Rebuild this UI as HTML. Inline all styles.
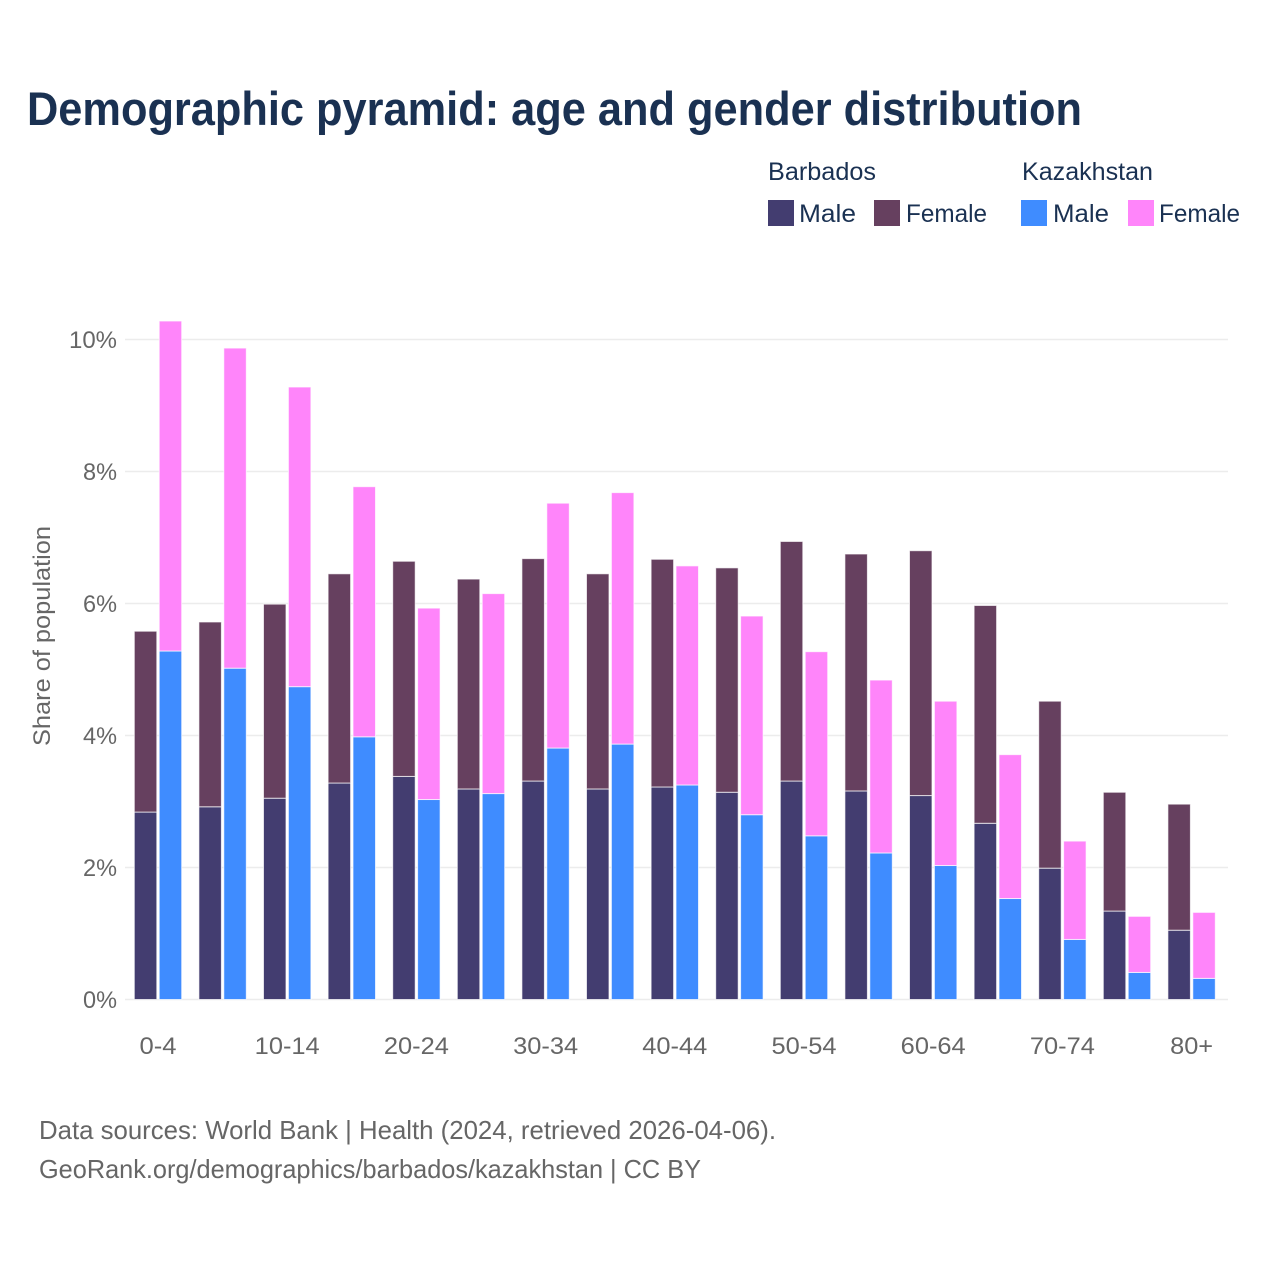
<!DOCTYPE html>
<html lang="en">
<head>
<meta charset="utf-8">
<title>Demographic pyramid</title>
<style>
html,body{margin:0;padding:0;background:#fff;width:1280px;height:1280px;overflow:hidden}
svg{display:block}
text{font-family:"Liberation Sans",sans-serif}
</style>
</head>
<body>
<svg id="chart" width="1280" height="1280" viewBox="0 0 1280 1280" xmlns="http://www.w3.org/2000/svg">
  <text x="27" y="125" font-size="47" font-weight="700" fill="#1a3152" textLength="1055" lengthAdjust="spacingAndGlyphs">Demographic pyramid: age and gender distribution</text>

  <g font-size="25" fill="#1a3152">
    <text x="768" y="180" textLength="108" lengthAdjust="spacingAndGlyphs">Barbados</text>
    <text x="1022" y="180" textLength="131" lengthAdjust="spacingAndGlyphs">Kazakhstan</text>
    <rect x="768" y="200" width="26" height="26" fill="#433d70"/>
    <text x="799" y="222" textLength="57" lengthAdjust="spacingAndGlyphs">Male</text>
    <rect x="874" y="200" width="26" height="26" fill="#66405f"/>
    <text x="906" y="222" textLength="81" lengthAdjust="spacingAndGlyphs">Female</text>
    <rect x="1021" y="200" width="26" height="26" fill="#3f8cff"/>
    <text x="1053" y="222" textLength="56" lengthAdjust="spacingAndGlyphs">Male</text>
    <rect x="1128" y="200" width="26" height="26" fill="#ff85fa"/>
    <text x="1159" y="222" textLength="81" lengthAdjust="spacingAndGlyphs">Female</text>
  </g>

  <g id="grid"></g>
  <g id="y-axis"></g>
  <g id="bars"></g>
  <g id="x-axis"></g>

  <text transform="translate(50,636) rotate(-90)" text-anchor="middle" font-size="24" fill="#666666" textLength="220" lengthAdjust="spacingAndGlyphs">Share of population</text>

  <text x="39" y="1139" font-size="26" fill="#666666" textLength="737" lengthAdjust="spacingAndGlyphs">Data sources: World Bank | Health (2024, retrieved 2026-04-06).</text>
  <text x="39" y="1178" font-size="26" fill="#666666" textLength="662" lengthAdjust="spacingAndGlyphs">GeoRank.org/demographics/barbados/kazakhstan | CC BY</text>
</svg>
<script>
const ageGroups = ["0-4","5-9","10-14","15-19","20-24","25-29","30-34","35-39","40-44","45-49","50-54","55-59","60-64","65-69","70-74","75-79","80+"];
const shownAgeLabels = ["0-4","10-14","20-24","30-34","40-44","50-54","60-64","70-74","80+"];
const yTicks = [0,2,4,6,8,10];
const barbadosMale = [2.84,2.92,3.05,3.28,3.38,3.19,3.31,3.19,3.22,3.14,3.31,3.16,3.09,2.67,1.99,1.34,1.05];
const barbadosFemale = [2.74,2.80,2.94,3.17,3.26,3.18,3.37,3.26,3.45,3.40,3.63,3.59,3.71,3.30,2.53,1.80,1.91];
const kazakhstanMale = [5.28,5.02,4.74,3.98,3.03,3.12,3.81,3.87,3.25,2.80,2.48,2.22,2.03,1.53,0.91,0.41,0.32];
const kazakhstanFemale = [5.00,4.85,4.54,3.79,2.90,3.03,3.71,3.81,3.32,3.01,2.79,2.62,2.49,2.18,1.49,0.85,1.00];

const NS = "http://www.w3.org/2000/svg";
const plotLeft = 125, plotRight = 1228;
const yZero = 999.5, pxPerUnit = 66;
const firstCenter = 158, bandStep = 64.6;
const barWidth = 22.5, barOffset = 1.2;

function yScale(v){ return yZero - v * pxPerUnit; }
function xCenter(i){ return firstCenter + i * bandStep; }
function tickWidth(label){ return label.length === 2 ? 34 : (label.length === 3 ? (label === "10%" ? 48 : 37) : 65); }

const grid = document.getElementById("grid");
const yAxis = document.getElementById("y-axis");
yTicks.forEach(function(t){
  const line = document.createElementNS(NS, "line");
  line.setAttribute("x1", plotLeft);
  line.setAttribute("x2", plotRight);
  line.setAttribute("y1", yScale(t));
  line.setAttribute("y2", yScale(t));
  line.setAttribute("stroke", "#ececec");
  line.setAttribute("stroke-width", "1.5");
  
  
  grid.appendChild(line);

  const label = document.createElementNS(NS, "text");
  const str = t + "%";
  label.textContent = str;
  label.setAttribute("x", 117);
  label.setAttribute("y", yScale(t) + 8.5);
  label.setAttribute("text-anchor", "end");
  label.setAttribute("font-size", "24");
  label.setAttribute("fill", "#666666");
  label.setAttribute("textLength", tickWidth(str));
  label.setAttribute("lengthAdjust", "spacingAndGlyphs");
  
  
  yAxis.appendChild(label);
});

const xAxis = document.getElementById("x-axis");
ageGroups.forEach(function(g, i){
  if (shownAgeLabels.indexOf(g) < 0) return;
  const label = document.createElementNS(NS, "text");
  label.textContent = g;
  label.setAttribute("x", xCenter(i));
  label.setAttribute("y", 1054);
  label.setAttribute("text-anchor", "middle");
  label.setAttribute("font-size", "24");
  label.setAttribute("fill", "#666666");
  label.setAttribute("textLength", g === "80+" ? 43 : tickWidth(g));
  label.setAttribute("lengthAdjust", "spacingAndGlyphs");
  
  
  xAxis.appendChild(label);
});

const barsGroup = document.getElementById("bars");
function drawBar(x, base, value, color){
  const rect = document.createElementNS(NS, "rect");
  rect.setAttribute("x", x);
  rect.setAttribute("y", yScale(base + value));
  rect.setAttribute("width", barWidth);
  rect.setAttribute("height", value * pxPerUnit);
  rect.setAttribute("fill", color);
  rect.setAttribute("stroke", "#ffffff");
  rect.setAttribute("stroke-opacity", "0.7");
  rect.setAttribute("stroke-width", "1");
  
  
  barsGroup.appendChild(rect);
}
ageGroups.forEach(function(g, i){
  const c = xCenter(i);
  const xB = c - barOffset - barWidth;
  const xK = c + barOffset;
  drawBar(xB, 0, barbadosMale[i], "#433d70");
  drawBar(xB, barbadosMale[i], barbadosFemale[i], "#66405f");
  drawBar(xK, 0, kazakhstanMale[i], "#3f8cff");
  drawBar(xK, kazakhstanMale[i], kazakhstanFemale[i], "#ff85fa");
});
</script>
</body>
</html>
